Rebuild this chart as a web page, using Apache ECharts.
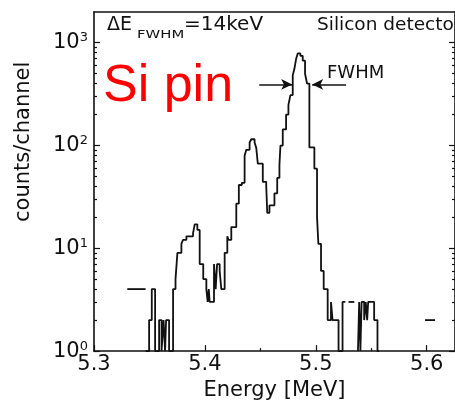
<!DOCTYPE html>
<html><head><meta charset="utf-8">
<script src="https://cdn.jsdelivr.net/npm/echarts@6/dist/echarts.min.js"></script>
<style>html,body{margin:0;padding:0;background:#fff}#c{width:455px;height:406px}</style>
</head><body><div id="c"></div>
<script>
// ---- data (energy in MeV = left bin edge, counts/channel) ----
const energyEdges = [5.3465,5.3497,5.3521,5.3551,5.3587,5.3609,5.3627,5.3641,5.3650,5.3677,
  5.3713,5.3735,5.3752,5.3788,5.3803,5.3833,5.3893,5.3908,5.3932,5.3953,
  5.3985,5.4013,5.4025,5.4035,5.4043,5.4082,5.4097,5.4110,5.4133,5.4148,
  5.4178,5.4202,5.4214,5.4238,5.4283,5.4306,5.4333,5.4358,5.4373,5.4403,
  5.4418,5.4448,5.4463,5.4477,5.4522,5.4553,5.4562,5.4582,5.4627,5.4652,
  5.4672,5.4681,5.4702,5.4732,5.4753,5.4771,5.4792,5.4807,5.4822,5.4837,
  5.4861,5.4882,5.4903,5.4921,5.4942,5.4987,5.5011,5.5023,5.5047,5.5071,
  5.5107,5.5137,5.5151,5.5205,5.5241,5.5266];
const counts = [1,2,4,1,2,1,2,1,2,1,
  4,5,9,11,12,13,14,17,15,7,
  5,4,3,4,3,7,4,7,6,4,
  9,13,12,16,27,41,43,79,90,106,
  114,106,94,66,44,40,22,26,34,48,
  64,99,142,198,246,306,475,550,684,776,
  736,660,493,396,95,59,20,11,6,4,
  2,3,2,1,3,3];
const tailEdges = [5.5380,5.5391,5.5402,5.5413,5.5436,5.5450,5.5463,5.5472,5.5526,5.5556,5.5570];
const tailCounts = [1,3,1,3,2,3,2,3,2,1,1];
const dashStart = [5.3300,5.5295,5.5985];
const dashEnd = [5.3465,5.5347,5.6075];
const dashCounts = [4,3,2];
const yMajorTicks = [1,10,100,1000];
const yMinorTicks = [2,3,4,5,6,7,8,9,20,30,40,50,60,70,80,90,200,300,400,500,600,700,800,900];
const xMajorTicks = [5.3,5.4,5.5,5.6];
const xMinorTicks = [5.35,5.45,5.55];
const fwhmHalfMax = 388;
const fwhmLeft = [5.449, 5.4787];
const fwhmRight = [5.5273, 5.4967];

const FONT = 'DejaVu Sans';
const INK = '#111';
const chart = echarts.init(document.getElementById('c'), null, {renderer: 'canvas'});

function yAxisDef(pos, minor, labels) {
  return {
    type: 'log', logBase: 10, position: pos, min: 1, max: 1960,
    axisLine: {show: !minor, onZero: false, lineStyle: {color: INK, width: 1.6}},
    axisTick: {show: true, inside: true, length: minor ? 3 : 6,
      customValues: minor ? yMinorTicks : yMajorTicks,
      lineStyle: {color: INK, width: 1.2}},
    minorTick: {show: false},
    splitLine: {show: false},
    axisLabel: {show: labels, customValues: yMajorTicks, margin: 6,
      formatter: v => '{b|10}{s|' + Math.round(Math.log10(v)) + '}',
      rich: {b: {fontSize: 21, fontFamily: FONT, color: INK},
             s: {fontSize: 13, fontFamily: FONT, color: INK, verticalAlign: 'top'}}}
  };
}
function xAxisDef(minor, pos) {
  return {
    type: 'value', position: pos || 'bottom', min: 5.3, max: 5.6255,
    axisLine: {show: !minor, onZero: false, lineStyle: {color: INK, width: 1.6}},
    axisTick: {show: pos !== 'top', inside: true, length: minor ? 3 : 6,
      customValues: minor ? xMinorTicks : xMajorTicks,
      lineStyle: {color: INK, width: 1.2}},
    splitLine: {show: false},
    axisLabel: {show: !minor && pos !== 'top', customValues: xMajorTicks, margin: 3,
      formatter: v => v.toFixed(1), fontSize: 21, fontFamily: FONT, color: INK},
    name: (!minor && pos !== 'top') ? 'Energy [MeV]' : '',
    nameLocation: 'middle', nameGap: 22,
    nameTextStyle: {fontSize: 21, fontFamily: FONT, color: INK}
  };
}

const lineStyle = {color: INK, width: 1.8};
const series = [
  {type: 'line', step: 'end', showSymbol: false, symbol: 'none', xAxisIndex: 0, yAxisIndex: 0,
   data: energyEdges.map((e, i) => [e, counts[i]]), lineStyle, animation: false,
   markLine: {silent: true, symbol: ['none', 'arrow'], symbolSize: [8, 11],
     label: {show: false}, lineStyle: {color: INK, width: 1.6, type: 'solid'},
     data: [
       [{coord: [fwhmLeft[0], fwhmHalfMax]}, {coord: [fwhmLeft[1], fwhmHalfMax]}],
       [{coord: [fwhmRight[0], fwhmHalfMax]}, {coord: [fwhmRight[1], fwhmHalfMax]}]
     ]}},
  {type: 'line', step: 'end', showSymbol: false, symbol: 'none', xAxisIndex: 0, yAxisIndex: 0,
   data: tailEdges.map((e, i) => [e, tailCounts[i]]), lineStyle, animation: false}
];
dashCounts.forEach((c, i) => series.push({
  type: 'line', showSymbol: false, symbol: 'none', xAxisIndex: 0, yAxisIndex: 0,
  data: [[dashStart[i], c], [dashEnd[i], c]], lineStyle, animation: false}));

chart.setOption({
  backgroundColor: '#fff',
  animation: false,
  grid: {left: 94, top: 12, width: 362, height: 346},
  xAxis: [xAxisDef(false), xAxisDef(true), xAxisDef(false, 'top')],
  yAxis: [yAxisDef('left', false, true), yAxisDef('left', true, false),
          yAxisDef('right', false, false), yAxisDef('right', true, false)],
  series,
  graphic: [
    {type: 'text', rotation: Math.PI / 2, x: 13, y: 222, silent: true,
     style: {text: 'counts/channel', font: '21px "DejaVu Sans"', fill: INK}},
    {type: 'text', x: 107, y: 25, style: {text: 'ΔE', font: '19px "DejaVu Sans"', fill: INK, textVerticalAlign: 'middle'}},
    {type: 'text', x: 137, y: 35, scaleX: 1.35, style: {text: 'FWHM', font: '11px "DejaVu Sans"', fill: INK, textVerticalAlign: 'middle'}},
    {type: 'text', x: 184, y: 25, style: {text: '=14keV', font: '20px "DejaVu Sans"', fill: INK, textVerticalAlign: 'middle'}},
    {type: 'text', x: 317, y: 25, style: {text: 'Silicon detector', font: '18.5px "DejaVu Sans"', fill: INK, textVerticalAlign: 'middle'}},
    {type: 'text', x: 327, y: 73, style: {text: 'FWHM', font: '18px "DejaVu Sans"', fill: INK, textVerticalAlign: 'middle'}},
    {type: 'text', x: 103, y: 87, style: {text: 'Si pin', font: '52px "Liberation Sans"', fill: '#ff0000', textVerticalAlign: 'middle'}}
  ]
});
</script></body></html>
